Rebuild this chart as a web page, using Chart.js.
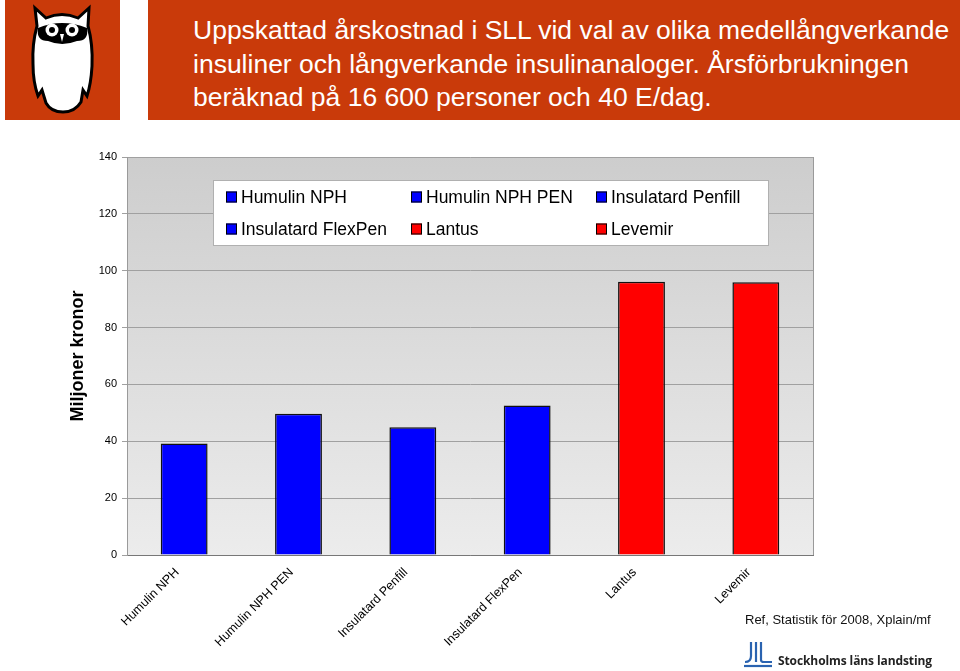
<!DOCTYPE html>
<html>
<head>
<meta charset="utf-8">
<script src="https://cdn.jsdelivr.net/npm/chart.js@4/dist/chart.umd.min.js"></script>
<style>
  body { margin: 0; width: 960px; height: 671px; position: relative; overflow: hidden; background: #fff; font-family: "Liberation Sans", Arial, sans-serif; }
  #myChart { position: absolute; left: 0; top: 0; }
  .logo { position: absolute; left: 5px; top: 0; width: 115px; height: 120px; background: #c93a0a; }
  .banner { position: absolute; left: 148px; top: 0; width: 812px; height: 120px; background: #c93a0a; color: #fff;
            font-size: 26.5px; line-height: 33.5px; box-sizing: border-box; padding: 14px 0 0 45px; white-space: nowrap; }
  .ref { position: absolute; left: 745px; top: 612px; font-size: 13px; color: #111; white-space: nowrap; }
  .sll { position: absolute; left: 744px; top: 642px; height: 26px; display: flex; align-items: flex-end; white-space: nowrap; }
  .sll span { font-family: "Open Sans", "DejaVu Sans", sans-serif; font-weight: 700; font-size: 12px; color: #222; margin-left: 6px; line-height: 15px; letter-spacing: -0.1px; }
</style>
</head>
<body>
<canvas id="myChart" width="960" height="671"></canvas>

<div class="logo">
  <svg width="115" height="120" viewBox="0 0 115 120">
    <!-- ugglan -->
    <path d="M30 8 L41 18 Q57 11 73 18 L84 8 L83 26 Q88 44 87 66 Q86 84 82 96 L78 90 L76 102 Q70 112 58 112 Q46 112 41 103 L37 90 L33 96 Q28 82 28 64 Q27 44 32 26 Z"
          fill="#fff" stroke="#000" stroke-width="3"/>
    <path d="M33 28 Q57 18 82 28 Q84 41 72 41 Q57 47 43 41 Q31 41 33 28 Z" fill="#000"/>
    <circle cx="47" cy="30" r="6.5" fill="#fff"/>
    <circle cx="67" cy="30" r="6.5" fill="#fff"/>
    <circle cx="47" cy="30" r="3" fill="#000"/>
    <circle cx="67" cy="30" r="3" fill="#000"/>
    <path d="M55 34 L57 42 L59 34 Z" fill="#fff"/>
  </svg>
</div>

<div class="banner">Uppskattad årskostnad i SLL vid val av olika medellångverkande<br>insuliner och långverkande insulinanaloger. Årsförbrukningen<br>beräknad på 16 600 personer och 40 E/dag.</div>

<div class="ref">Ref, Statistik för 2008, Xplain/mf</div>
<div class="sll">
  <svg width="28" height="26" viewBox="0 0 28 26">
    <path d="M7 0 V14 Q7 20 1 20" fill="none" stroke="#2a63b0" stroke-width="2.2"/>
    <path d="M12 0 V20" fill="none" stroke="#2a63b0" stroke-width="2.2"/>
    <path d="M17 0 V18 Q17 20 20 20 H28" fill="none" stroke="#2a63b0" stroke-width="2.2"/>
    <path d="M0 24 H28" fill="none" stroke="#2a63b0" stroke-width="2.2"/>
  </svg>
  <span>Stockholms läns landsting</span>
</div>

<script>
// preparat och kostnad (miljoner kronor)
const categories = ["Humulin NPH", "Humulin NPH PEN", "Insulatard Penfill", "Insulatard FlexPen", "Lantus", "Levemir"];
const costs = [39.2, 49.7, 44.9, 52.6, 96.1, 95.9];
const yTicks = [0, 20, 40, 60, 80, 100, 120, 140];

const barColors = ["#0000ff", "#0000ff", "#0000ff", "#0000ff", "#ff0000", "#ff0000"];

// grå gradient bakom staplarna + ram
const plotBg = {
  id: "plotBg",
  beforeDraw(c) {
    const a = c.chartArea, ctx = c.ctx;
    const g = ctx.createLinearGradient(0, a.top, 0, a.bottom);
    g.addColorStop(0, "#cdcdcd");
    g.addColorStop(1, "#ececec");
    ctx.save();
    ctx.fillStyle = g;
    ctx.fillRect(a.left, a.top, a.right - a.left, a.bottom - a.top);
    ctx.restore();
  },
  afterDraw(c) {
    const a = c.chartArea, ctx = c.ctx;
    ctx.save();
    ctx.strokeStyle = "#9a9a9a";
    ctx.lineWidth = 1;
    ctx.beginPath();
    ctx.moveTo(Math.round(a.right) + 0.5, a.top);
    ctx.lineTo(Math.round(a.right) + 0.5, a.bottom);
    ctx.stroke();
    ctx.restore();
  }
};

// legenden ligger inne i diagrammet, 3 kolumner
const legendBox = {
  id: "legendBox",
  afterDatasetsDraw(c) {
    const a = c.chartArea, ctx = c.ctx;
    const x0 = a.left + 86, y0 = a.top + 23;
    ctx.save();
    ctx.fillStyle = "#fff";
    ctx.fillRect(x0 + 0.5, y0 + 0.5, 555, 65);
    ctx.strokeStyle = "#b0b0b0";
    ctx.strokeRect(x0 + 0.5, y0 + 0.5, 555, 65);
    ctx.font = "17.5px 'Liberation Sans', Arial, sans-serif";
    ctx.textBaseline = "middle";
    categories.forEach((name, i) => {
      const col = i % 3, row = Math.floor(i / 3);
      const x = x0 + 13 + col * 185, y = y0 + 17 + row * 32;
      ctx.fillStyle = barColors[i];
      ctx.fillRect(x, y - 5.5, 11, 11);
      ctx.strokeStyle = "#000";
      ctx.strokeRect(x + 0.5, y - 5, 10, 10);
      ctx.fillStyle = "#000";
      ctx.fillText(name, x + 15, y + 1);
    });
    ctx.restore();
  }
};

const myChart = new Chart(document.getElementById("myChart"), {
  type: "bar",
  data: {
    labels: categories,
    datasets: [{
      label: "Miljoner kronor",
      data: costs,
      backgroundColor: barColors,
      borderColor: "#111",
      borderWidth: 1.5,
      categoryPercentage: 0.82,
      barPercentage: 0.5
    }]
  },
  options: {
    responsive: false,
    animation: false,
    layout: { padding: { left: 60, top: 157, right: 147, bottom: 0 } },
    plugins: {
      legend: { display: false },
      tooltip: { enabled: false }
    },
    scales: {
      x: {
        grid: { display: false },
        border: { color: "#777" },
        ticks: {
          color: "#000",
          font: { family: "'Liberation Sans', Arial, sans-serif", size: 12.5 },
          minRotation: 45,
          maxRotation: 45,
          padding: 2,
          labelOffset: -7
        },
        afterFit(s) { s.height = 116; }
      },
      y: {
        min: 0,
        max: 140,
        afterBuildTicks(s) { s.ticks = yTicks.map(v => ({ value: v })); },
        grid: { color: "#a0a0a0", tickLength: 5 },
        border: { color: "#9a9a9a" },
        ticks: {
          color: "#000",
          font: { family: "'Liberation Sans', Arial, sans-serif", size: 11 },
          padding: 5
        },
        title: {
          display: true,
          text: "Miljoner kronor",
          color: "#000",
          font: { family: "'Liberation Sans', Arial, sans-serif", size: 18, weight: "bold" },
          padding: { top: 7, bottom: 0 }
        },
        afterFit(s) { s.width = 67; }
      }
    }
  },
  plugins: [plotBg, legendBox]
});
</script>
</body>
</html>
